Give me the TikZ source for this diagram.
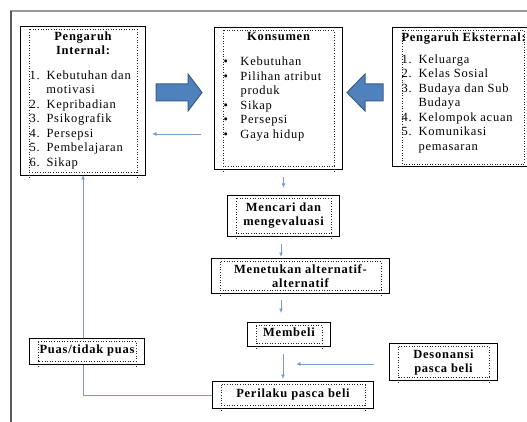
\documentclass[tikz,border=0pt]{standalone}
\usepackage{fontspec}
\setmainfont{Liberation Serif}[LetterSpace=6]
\usetikzlibrary{arrows.meta}

\definecolor{arrowfill}{RGB}{79,129,189}
\definecolor{arrowline}{RGB}{56,93,138}
\definecolor{flowline}{RGB}{120,155,208}

\newcommand{\boxfont}{\fontsize{12.5}{14.5}\selectfont}
\newcommand{\num}[1]{\makebox[17pt][l]{#1}}

\begin{document}
\begin{tikzpicture}[x=1pt, y=-1pt,
    box/.style={draw=black, line width=1pt, inner sep=0pt, anchor=north west},
    listbox/.style={box, inner xsep=9pt, inner ysep=5pt},
    stepbox/.style={box, align=center, font=\fontsize{12.5}{14}\selectfont\bfseries},
    onerow/.style={align=none, text height=9pt, text depth=5pt},
    dotbox/.style={dotted, line width=0.6pt, black!85},
    flow/.style={draw=flowline, line width=0.9pt, -{Latex[length=4.5pt,width=4pt]}},
    bigarrow/.style={fill=arrowfill, draw=arrowline, line width=1pt, line join=miter}]

    \useasboundingbox (0,0) rectangle (527,422);
    \clip (0,0) rectangle (527,422);

    % page frame
    \draw[gray!80, line width=2pt] (10,11) -- (527,11);
    \draw[black!65, line width=1.5pt] (11,11) -- (11,422);

    % the three boxes at the top
    \node[listbox, minimum width=125, minimum height=149] (intern) at (20,26)
        {\parbox[t][139pt][t]{107pt}{\boxfont
        \centering\bfseries Pengaruh\\ Internal:\par
        \vspace{10pt}\raggedright\mdseries
        \num{1.}Kebutuhan dan\\
        \num{}motivasi\\
        \num{2.}Kepribadian\\
        \num{3.}Psikografik\\
        \num{4.}Persepsi\\
        \num{5.}Pembelajaran\\
        \num{6.}Sikap}};
    \node[listbox, minimum width=128, minimum height=142] (konsumen) at (214,27)
        {\parbox[t][132pt][t]{110pt}{\boxfont
        \centering\bfseries Konsumen\par
        \vspace{10.5pt}\raggedright\mdseries
        \num{\textbullet}Kebutuhan\\
        \num{\textbullet}Pilihan atribut\\
        \num{}produk\\
        \num{\textbullet}Sikap\\
        \num{\textbullet}Persepsi\\
        \num{\textbullet}Gaya hidup}};
    \node[listbox, minimum width=140, minimum height=139] (ekstern) at (392,27)
        {\parbox[t][129pt][t]{122pt}{\boxfont\raggedright
        \mbox{\bfseries Pengaruh Eksternal:}\par
        \vspace{7.5pt}
        \num{1.}Keluarga\\
        \num{2.}Kelas Sosial\\
        \num{3.}Budaya dan Sub\\
        \num{}Budaya\\
        \num{4.}Kelompok acuan\\
        \num{5.}Komunikasi\\
        \num{}pemasaran}};

    % steps of the decision
    \node[stepbox, minimum width=112, minimum height=41] (mencari) at (227,195) {Mencari dan\\ mengevaluasi};
    \node[stepbox, minimum width=178, minimum height=35] (menetukan) at (211,258) {Menetukan alternatif-\\ alternatif};
    \node[stepbox, onerow, minimum width=83, minimum height=24] (membeli) at (247,322) {Membeli};
    \node[stepbox, minimum width=108, minimum height=37] (desonansi) at (389,343) {Desonansi\\ pasca beli};
    \node[stepbox, onerow, minimum width=161, minimum height=27] (perilaku) at (212,381) {Perilaku pasca beli};
    \node[stepbox, onerow, minimum width=115, minimum height=26] (puas) at (29,338) {Puas/tidak puas};

    % dotted text frames inside the boxes
    \foreach \n in {intern, konsumen, mencari, menetukan, membeli, desonansi, perilaku, puas} {
        \draw[dotbox] ([shift={(9,3.5)}]\n.north west) rectangle ([shift={(-9,-4)}]\n.south east);
        \draw[dotbox] ([shift={(9,-4)}]\n.south west) -- ++(0,6);
        \draw[dotbox] ([shift={(-9,-4)}]\n.south east) -- ++(0,6);
    }
    \draw[dotbox] ([shift={(10,3.5)}]ekstern.north west) rectangle ([shift={(-9,-3)}]ekstern.south east);

    % block arrows into Konsumen
    \draw[bigarrow] (156,84) -- (188,84) -- (188,74) -- (202,92.5) -- (188,111) -- (188,101) -- (156,101) -- cycle;
    \draw[bigarrow] (383,84) -- (365,84) -- (365,74) -- (347,92.5) -- (365,111) -- (365,101) -- (383,101) -- cycle;

    % thin connectors
    \coordinate (back) at (152,134);
    \draw[flow, shorten <=13pt] (konsumen.west |- back) -- (back);
    \draw[flow, shorten <=7pt, shorten >=7pt] (konsumen.south -| mencari.north) -- (mencari.north);
    \draw[flow, shorten <=7pt, shorten >=1pt] (mencari.south -| 281,0) -- (menetukan.north -| 281,0);
    \draw[flow, shorten <=6pt, shorten >=9pt] (menetukan.south -| 281,0) -- (membeli.north -| 281,0);
    \draw[flow, shorten <=7pt, shorten >=2pt] (membeli.south -| 283,0) -- (perilaku.north -| 283,0);
    \coordinate (meet) at (283,364);
    \draw[flow, shorten <=15pt, shorten >=13pt] (desonansi.west |- meet) -- (meet);
    \draw[draw=flowline, line width=0.9pt] (perilaku.west) -| (puas.south -| intern.south);
    \draw[flow, shorten >=-1pt] (puas.north -| intern.south) -- (intern.south);
\end{tikzpicture}
\end{document}
